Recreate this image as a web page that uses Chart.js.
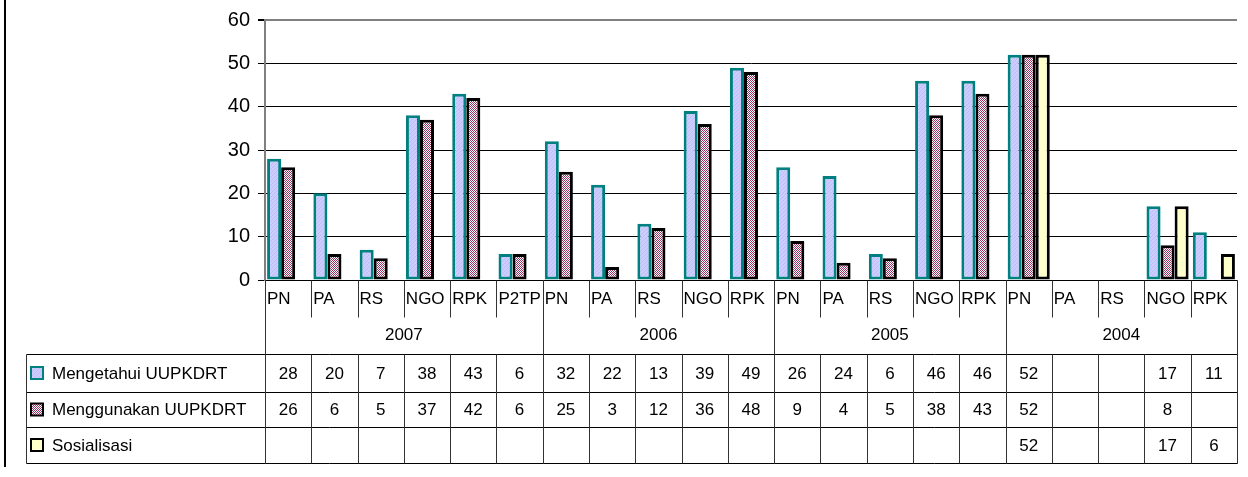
<!DOCTYPE html>
<html>
<head>
<meta charset="utf-8">
<script src="https://cdn.jsdelivr.net/npm/chart.js@4.4.1/dist/chart.umd.min.js"></script>
<style>
  html, body { margin: 0; padding: 0; background: #fff; }
  #wrap { width: 1248px; height: 477px; }
</style>
</head>
<body>
<div id="wrap"><canvas id="c" width="1248" height="477"></canvas></div>
<script>
// kategori per tahun
const categories = ['PN', 'PA', 'RS', 'NGO', 'RPK', 'P2TP',
  'PN', 'PA', 'RS', 'NGO', 'RPK',
  'PN', 'PA', 'RS', 'NGO', 'RPK',
  'PN', 'PA', 'RS', 'NGO', 'RPK'];
const years = ['2007', '2006', '2005', '2004'];
const yearSpans = [6, 5, 5, 5];

const mengetahui = [28, 20, 7, 38, 43, 6, 32, 22, 13, 39, 49, 26, 24, 6, 46, 46, 52, null, null, 17, 11];
const menggunakan = [26, 6, 5, 37, 42, 6, 25, 3, 12, 36, 48, 9, 4, 5, 38, 43, 52, null, null, 8, null];
const sosialisasi = [null, null, null, null, null, null, null, null, null, null, null,
  null, null, null, null, null, 52, null, null, 17, 6];

const seriesNames = ['Mengetahui UUPKDRT', 'Menggunakan UUPKDRT', 'Sosialisasi'];
const yTicks = [0, 10, 20, 30, 40, 50, 60];

const FONT = '"Liberation Sans", Arial, sans-serif';

// pola isi batang (mirip Excel)
const makePattern = (size, paint) => {
  const pc = document.createElement('canvas');
  pc.width = size;
  pc.height = size;
  const p = pc.getContext('2d');
  paint(p);
  return document.getElementById('c').getContext('2d').createPattern(pc, 'repeat');
};

const bluePattern = makePattern(4, (p) => {
  p.fillStyle = '#ccccff';
  p.fillRect(0, 0, 4, 4);
  p.fillStyle = '#bcbcf6';
  for (let i = 0; i < 4; i++) p.fillRect(i, 3 - i, 1, 1);
});

const redPattern = makePattern(2, (p) => {
  p.fillStyle = '#ffffff';
  p.fillRect(0, 0, 2, 2);
  p.fillStyle = '#993366';
  p.fillRect(0, 0, 1, 1);
  p.fillRect(1, 1, 1, 1);
});

const fills = [bluePattern, redPattern, '#ffffcc'];
const borders = ['#008080', '#000000', '#000000'];
const allSeries = [mengetahui, menggunakan, sosialisasi];

// tabel data di bawah grafik
const dataTable = {
  id: 'dataTable',
  afterDraw(chart) {
    const ctx = chart.ctx;
    const x = chart.scales.x;
    const area = chart.chartArea;
    const w = x.getPixelForValue(1) - x.getPixelForValue(0);
    const edge = (i) => x.getPixelForValue(0) - w / 2 + i * w;

    const yAxis = area.bottom;
    const yCat = 317;
    const rows = [354, 392, 427, 463];
    const tableLeft = 26;
    const right = edge(categories.length);

    ctx.save();
    const line = (x1, y1, x2, y2) => {
      ctx.beginPath();
      ctx.moveTo(Math.round(x1) + 0.5, Math.round(y1) + 0.5);
      ctx.lineTo(Math.round(x2) + 0.5, Math.round(y2) + 0.5);
      ctx.stroke();
    };

    // garis kiri bingkai
    ctx.strokeStyle = '#000';
    ctx.lineWidth = 2;
    ctx.beginPath();
    ctx.moveTo(5, 0);
    ctx.lineTo(5, 467);
    ctx.stroke();
    ctx.lineWidth = 1;

    // garis horizontal
    rows.forEach((r) => line(tableLeft, r, right, r));
    line(area.left, yAxis, right, yAxis);

    // garis vertikal
    ctx.strokeStyle = '#333';
    for (let i = 0; i <= categories.length; i++) {
      line(edge(i), yAxis, edge(i), yCat);
      line(edge(i), rows[0], edge(i), rows[3]);
    }
    let acc = 0;
    yearSpans.forEach((s) => {
      line(edge(acc), yAxis, edge(acc), rows[3]);
      acc += s;
    });
    line(right, yAxis, right, rows[3]);
    line(tableLeft, rows[0], tableLeft, rows[3]);

    // label kategori
    ctx.fillStyle = '#000';
    ctx.font = '17px ' + FONT;
    ctx.textBaseline = 'middle';
    ctx.textAlign = 'left';
    categories.forEach((c, i) => ctx.fillText(c, edge(i) + 2, 299));

    // label tahun
    ctx.textAlign = 'center';
    acc = 0;
    years.forEach((yr, j) => {
      const mid = (edge(acc) + edge(acc + yearSpans[j])) / 2;
      ctx.fillText(yr, mid, 335);
      acc += yearSpans[j];
    });

    // baris nilai + legenda
    allSeries.forEach((vals, s) => {
      const cy = (rows[s] + rows[s + 1]) / 2;
      ctx.textAlign = 'center';
      ctx.fillStyle = '#000';
      vals.forEach((v, i) => {
        if (v !== null) ctx.fillText(String(v), edge(i) + w / 2, cy + 1);
      });
      ctx.fillStyle = fills[s];
      ctx.fillRect(31, cy - 6, 12, 12);
      ctx.strokeStyle = borders[s];
      ctx.lineWidth = 2;
      ctx.strokeRect(31, cy - 6, 12, 12);
      ctx.fillStyle = '#000';
      ctx.textAlign = 'left';
      ctx.fillText(seriesNames[s], 52, cy + 1);
    });
    ctx.restore();
  },
};

new Chart(document.getElementById('c'), {
  type: 'bar',
  data: {
    labels: categories,
    datasets: allSeries.map((vals, s) => ({
      label: seriesNames[s],
      data: vals,
      backgroundColor: fills[s],
      borderColor: borders[s],
      borderWidth: 3,
      borderSkipped: false,
      categoryPercentage: 0.91,
      barPercentage: 1,
    })),
  },
  options: {
    responsive: false,
    animation: false,
    devicePixelRatio: 1,
    layout: { padding: { top: 20, right: 11, bottom: 197, left: 0 } },
    plugins: {
      legend: { display: false },
      tooltip: { enabled: false },
    },
    scales: {
      x: { display: false },
      y: {
        min: 0,
        max: 60,
        afterFit: (scale) => { scale.width = 265; },
        afterBuildTicks: (scale) => { scale.ticks = yTicks.map((v) => ({ value: v })); },
        border: { color: '#808080', width: 2 },
        grid: {
          color: (c) => (c.tick && c.tick.value === 60 ? '#808080' : '#000'),
          lineWidth: (c) => (c.tick && c.tick.value === 60 ? 2 : 1),
          tickColor: '#000',
          tickLength: 7,
        },
        ticks: {
          color: '#000',
          padding: 8,
          font: { family: FONT, size: 20 },
        },
      },
    },
  },
  plugins: [dataTable],
});
</script>
</body>
</html>
